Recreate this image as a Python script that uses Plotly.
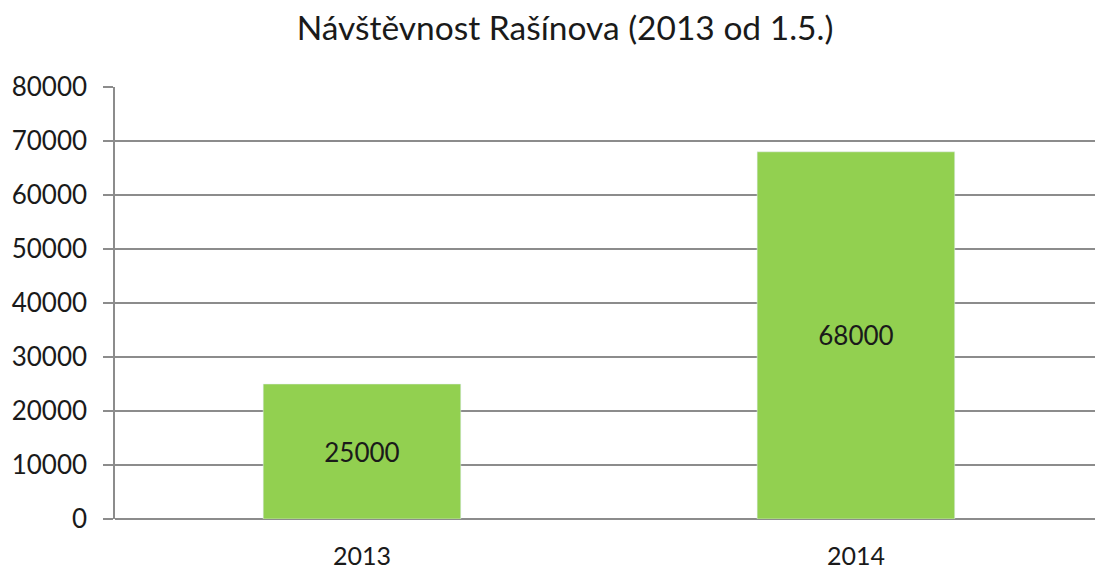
import plotly.graph_objects as go

years = ['2013', '2014']
visitors = [25000, 68000]
y_ticks = [0, 10000, 20000, 30000, 40000, 50000, 60000, 70000, 80000]

FONT = 'Lato, Open Sans, sans-serif'
GRAY = '#8c8c8c'

fig = go.Figure(go.Bar(
    x=years,
    y=visitors,
    marker_color='#92D050',
    width=0.4,
    text=[str(v) for v in visitors],
    textposition='inside',
    insidetextanchor='middle',
    textfont=dict(size=26, color='#1a1a1a', family=FONT),
    textangle=0,
))

fig.update_layout(
    title=dict(text='Návštěvnost Rašínova (2013 od 1.5.)', x=0.516, xanchor='center',
               y=0.951, yanchor='middle', font=dict(size=33.5, color='#1a1a1a', family=FONT)),
    width=1095,
    height=569,
    margin=dict(l=115, r=0, t=87, b=50),
    plot_bgcolor='white',
    paper_bgcolor='white',
    showlegend=False,
    font=dict(family=FONT, color='#1a1a1a'),
)
fig.update_xaxes(
    range=[-0.5, 1.484],
    showgrid=False,
    showline=False,
    ticks='',
    tickfont=dict(size=25),
    ticklabelstandoff=20,
    automargin=False,
)
fig.update_yaxes(
    range=[0, 80000],
    tickvals=y_ticks,
    ticktext=[str(v) for v in y_ticks],
    showgrid=True,
    gridcolor=GRAY,
    gridwidth=1.5,
    showline=True,
    linecolor=GRAY,
    linewidth=1.5,
    ticks='outside',
    ticklen=10,
    tickcolor=GRAY,
    tickwidth=1.5,
    tickfont=dict(size=26),
    ticklabelstandoff=11,
    automargin=False,
    zeroline=True,
    zerolinecolor=GRAY,
    zerolinewidth=1.5,
)

# drop the default 8px body margin so the figure fills the window exactly
fig.write_html(
    'out.html',
    config={'displayModeBar': False},
    post_script="document.body.style.margin='0';document.body.style.overflow='hidden';",
)
